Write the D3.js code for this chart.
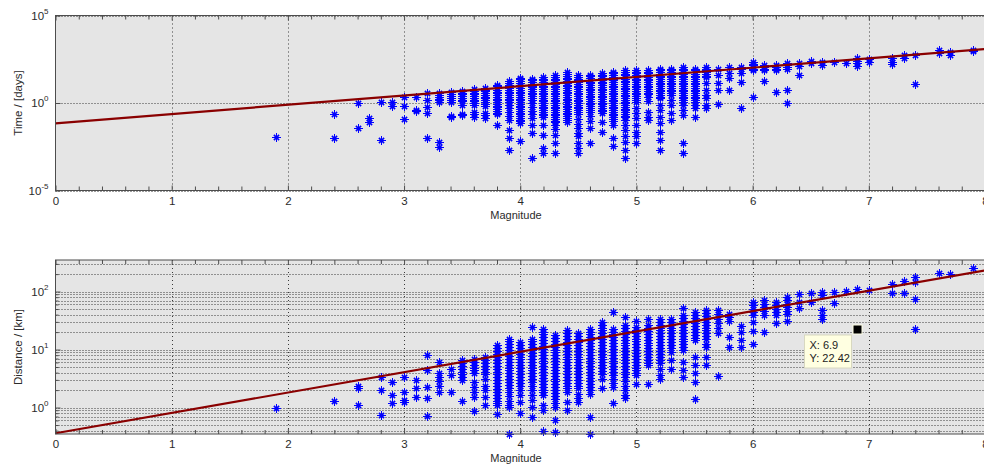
<!DOCTYPE html>
<html>
<head>
<meta charset="utf-8">
<script src="https://cdn.jsdelivr.net/npm/d3@7"></script>
<style>
  html, body { margin: 0; padding: 0; background: #ffffff; overflow: hidden; }
  svg { display: block; font-family: "Liberation Sans", Arial, sans-serif; }
</style>
</head>
<body>
<script>
// ---------------- DATA ----------------
// Magnitude axis ticks
const xMajorTicks = [0, 1, 2, 3, 4, 5, 6, 7, 8];
// Top panel: y ticks (powers of ten)
const timeTickExps = [-5, 0, 5];
// Bottom panel: y ticks (powers of ten)
const distTickExps = [0, 1, 2];

// Top panel: per magnitude, log10(time in days) of each event
const timeData = [
  [1.9, [-1.97]],
  [2.4, [-0.63, -2.0]],
  [2.6, [0.0, -1.44]],
  [2.7, [-0.83, -1.1]],
  [2.8, [0.07, -2.1]],
  [2.9, [0.07, -0.15]],
  [3.0, [0.32, -0.15, -0.93]],
  [3.1, [0.32, -0.4, -0.45]],
  [3.2, [0.55, 0.17, -0.21, -0.55, -2.0]],
  [3.3, [0.55, 0.45, 0.35, 0.25, 0.15, 0.05, -2.25, -2.52]],
  [3.4, [0.64, 0.5, 0.4, 0.3, 0.2, 0.07, -0.72, -0.82]],
  [3.5, [0.7, 0.6, 0.5, 0.4, 0.3, 0.2, 0.1, -0.1, -0.6, -0.7]],
  [3.6, [0.8, 0.7, 0.6, 0.5, 0.4, 0.3, 0.2, 0.1, 0.0, -0.1, -0.5, -0.65, -0.8]],
  [3.7, [0.87, 0.77, 0.67, 0.57, 0.47, 0.37, 0.27, 0.17, 0.07, -0.03, -0.15, -0.55, -0.7, -0.87]],
  [3.8, [1.05, 0.95, 0.85, 0.75, 0.65, 0.55, 0.45, 0.35, 0.25, 0.15, 0.05, -0.05, -0.15, -0.25, -0.35, -0.45, -0.55, -0.65, -1.25]],
  [3.9, [1.25, 1.15, 1.05, 0.95, 0.85, 0.75, 0.65, 0.55, 0.45, 0.35, 0.25, 0.15, 0.05, -0.1, -0.3, -0.5, -0.75, -0.97, -1.53, -2.0, -2.67]],
  [4.0, [1.45, 1.35, 1.25, 1.15, 1.05, 0.95, 0.85, 0.75, 0.65, 0.55, 0.45, 0.35, 0.25, 0.15, 0.05, -0.05, -0.15, -0.25, -0.35, -0.45, -0.55, -0.65, -0.75, -0.85, -0.95, -1.05, -1.15, -2.16]],
  [4.1, [1.4, 1.3, 1.2, 1.1, 1.0, 0.9, 0.8, 0.7, 0.6, 0.5, 0.4, 0.3, 0.2, 0.0, -0.2, -0.45, -0.65, -0.87, -1.25, -1.72, -3.14]],
  [4.2, [1.5, 1.4, 1.3, 1.2, 1.1, 1.0, 0.9, 0.8, 0.7, 0.6, 0.5, 0.4, 0.3, 0.2, 0.1, 0.0, -0.1, -0.2, -0.3, -0.4, -0.5, -0.6, -0.7, -0.78, -1.25, -1.82, -2.57, -2.86]],
  [4.3, [1.6, 1.5, 1.4, 1.3, 1.2, 1.1, 1.0, 0.9, 0.8, 0.7, 0.6, 0.5, 0.4, 0.3, 0.2, 0.1, 0.0, -0.1, -0.2, -0.3, -0.4, -0.5, -0.6, -0.7, -0.8, -0.9, -1.0, -1.1, -1.25, -1.5, -1.82, -2.29, -2.86]],
  [4.4, [1.75, 1.65, 1.55, 1.45, 1.35, 1.25, 1.15, 1.05, 0.95, 0.85, 0.75, 0.65, 0.55, 0.45, 0.35, 0.25, 0.15, 0.05, -0.05, -0.15, -0.25, -0.35, -0.45, -0.55, -0.65, -0.75, -0.85, -0.95, -1.06]],
  [4.5, [1.6, 1.5, 1.4, 1.3, 1.2, 1.1, 1.0, 0.9, 0.8, 0.7, 0.6, 0.5, 0.4, 0.3, 0.2, 0.1, 0.0, -0.1, -0.2, -0.3, -0.4, -0.5, -0.65, -0.9, -1.2, -1.45, -1.7, -1.91, -2.29, -2.57, -2.86]],
  [4.6, [1.62, 1.52, 1.42, 1.32, 1.22, 1.12, 1.02, 0.92, 0.82, 0.72, 0.62, 0.52, 0.42, 0.32, 0.22, 0.12, 0.02, -0.08, -0.18, -0.28, -0.38, -0.5, -0.75, -1.0, -1.44, -2.29]],
  [4.7, [1.72, 1.62, 1.52, 1.42, 1.32, 1.22, 1.12, 1.02, 0.92, 0.82, 0.72, 0.62, 0.52, 0.42, 0.32, 0.22, 0.12, 0.02, -0.08, -0.18, -0.28, -0.38, -0.48, -0.55, -1.06, -1.63]],
  [4.8, [1.8, 1.7, 1.6, 1.5, 1.4, 1.3, 1.2, 1.1, 1.0, 0.9, 0.8, 0.7, 0.6, 0.5, 0.4, 0.3, 0.2, 0.1, 0.0, -0.1, -0.2, -0.3, -0.4, -0.5, -0.6, -0.7, -0.8, -0.9, -1.05, -1.25, -2.0, -2.48]],
  [4.9, [1.88, 1.78, 1.68, 1.58, 1.48, 1.38, 1.28, 1.18, 1.08, 0.98, 0.88, 0.78, 0.68, 0.58, 0.48, 0.38, 0.28, 0.18, 0.08, -0.02, -0.12, -0.22, -0.32, -0.42, -0.52, -0.62, -0.72, -0.82, -0.97, -1.25, -1.53, -1.91, -2.2, -2.67, -3.14]],
  [5.0, [1.9, 1.8, 1.7, 1.6, 1.5, 1.4, 1.3, 1.2, 1.1, 1.0, 0.9, 0.8, 0.7, 0.6, 0.5, 0.4, 0.3, 0.2, 0.07, -0.3, -0.59, -0.87, -1.25, -1.63, -1.91, -2.29]],
  [5.1, [1.9, 1.8, 1.7, 1.6, 1.5, 1.4, 1.3, 1.2, 1.1, 1.0, 0.9, 0.8, 0.7, 0.6, 0.5, 0.36, 0.1, -0.49, -0.78, -0.97]],
  [5.2, [1.97, 1.87, 1.77, 1.67, 1.57, 1.47, 1.37, 1.27, 1.17, 1.07, 0.97, 0.87, 0.77, 0.67, 0.57, 0.47, 0.37, 0.27, -0.11, -0.4, -0.78, -1.15, -1.63, -2.1, -2.67]],
  [5.3, [1.97, 1.87, 1.77, 1.67, 1.57, 1.47, 1.37, 1.27, 1.17, 1.07, 0.97, 0.87, 0.77, 0.67, 0.57, 0.45, 0.2, -0.11, -0.59, -0.97]],
  [5.4, [2.06, 1.96, 1.86, 1.76, 1.66, 1.56, 1.46, 1.36, 1.26, 1.16, 1.06, 0.96, 0.86, 0.76, 0.66, 0.56, 0.46, 0.36, 0.26, 0.16, 0.06, -0.11, -0.4, -0.68, -2.29, -2.86]],
  [5.5, [1.97, 1.87, 1.77, 1.67, 1.57, 1.47, 1.37, 1.27, 1.17, 1.07, 0.97, 0.87, 0.77, 0.67, 0.57, 0.47, 0.37, 0.27, 0.17, 0.07, -0.1, -0.3, -0.78]],
  [5.6, [2.06, 1.96, 1.86, 1.76, 1.66, 1.56, 1.49, 1.12, 0.74, 0.45, 0.27, -0.11, -0.3]],
  [5.7, [1.97, 1.59, 1.12, 0.74, -0.08]],
  [5.8, [2.06, 1.69, 1.45, 0.74]],
  [5.9, [2.06, 1.97, 1.72, 1.21, -0.3]],
  [6.0, [2.35, 2.25, 2.15, 2.05, 1.95, 1.88, 0.36]],
  [6.1, [2.15, 2.05, 1.95, 1.88, 1.27]],
  [6.2, [2.16, 2.06, 1.96, 1.88, 0.64]],
  [6.3, [2.26, 2.16, 2.06, 1.95, 0.74, -0.02]],
  [6.4, [2.26, 2.1, 1.59]],
  [6.5, [2.41, 2.26]],
  [6.6, [2.35, 2.16]],
  [6.7, [2.35]],
  [6.8, [2.26]],
  [6.9, [2.56, 2.41, 2.26, 2.1]],
  [7.0, [2.52, 2.35]],
  [7.2, [2.56, 2.35, 2.24]],
  [7.3, [2.75, 2.56]],
  [7.4, [2.72, 1.08]],
  [7.6, [3.0, 2.84]],
  [7.7, [2.9, 2.77]],
  [7.9, [3.05, 2.96]]
];

// Bottom panel: per magnitude, log10(distance in km) of each event
const distData = [
  [1.9, [0.0]],
  [2.4, [0.11]],
  [2.6, [0.37, 0.33, 0.04]],
  [2.8, [0.53, 0.3, -0.13]],
  [2.9, [0.44, 0.21, 0.07]],
  [3.0, [0.53, 0.27, 0.13, 0.1]],
  [3.1, [0.48, 0.33, 0.19]],
  [3.2, [0.9, 0.64, 0.36, 0.17, -0.14]],
  [3.3, [0.79, 0.59, 0.52, 0.45, 0.38, 0.27]],
  [3.4, [0.67, 0.56, 0.27]],
  [3.5, [0.82, 0.77, 0.72, 0.67, 0.62, 0.57, 0.52, 0.47, 0.11]],
  [3.6, [0.84, 0.79, 0.74, 0.69, 0.64, 0.59, 0.44, 0.36, 0.27, 0.18, -0.06]],
  [3.7, [0.87, 0.82, 0.77, 0.72, 0.67, 0.62, 0.57, 0.5, 0.38, 0.3, 0.18, 0.04]],
  [3.8, [1.07, 1.02, 0.97, 0.92, 0.87, 0.82, 0.77, 0.72, 0.67, 0.62, 0.57, 0.52, 0.47, 0.42, 0.37, 0.32, 0.27, 0.22, 0.17, 0.12, 0.07, 0.04, -0.11]],
  [3.9, [1.19, 1.14, 1.09, 1.04, 0.99, 0.94, 0.89, 0.84, 0.79, 0.74, 0.69, 0.64, 0.59, 0.54, 0.49, 0.44, 0.39, 0.33, 0.27, 0.2, 0.12, 0.05, 0.01, -0.45]],
  [4.0, [1.13, 1.08, 1.03, 0.98, 0.93, 0.88, 0.83, 0.78, 0.73, 0.68, 0.63, 0.58, 0.53, 0.48, 0.43, 0.38, 0.3, 0.21, 0.1, -0.1]],
  [4.1, [1.39, 1.19, 1.14, 1.09, 1.04, 0.99, 0.94, 0.89, 0.84, 0.79, 0.74, 0.69, 0.64, 0.59, 0.54, 0.49, 0.44, 0.38, 0.3, 0.21, 0.13, 0.01, -0.16]],
  [4.2, [1.36, 1.31, 1.26, 1.21, 1.16, 1.11, 1.06, 1.01, 0.96, 0.91, 0.86, 0.81, 0.76, 0.71, 0.66, 0.61, 0.56, 0.51, 0.46, 0.41, 0.36, 0.31, 0.26, 0.21, 0.04, -0.05, -0.41]],
  [4.3, [1.25, 1.2, 1.15, 1.1, 1.05, 1.0, 0.95, 0.9, 0.85, 0.8, 0.75, 0.7, 0.65, 0.6, 0.55, 0.5, 0.45, 0.4, 0.35, 0.3, 0.25, 0.2, 0.14, 0.07, 0.01, -0.22, -0.42]],
  [4.4, [1.33, 1.28, 1.23, 1.18, 1.13, 1.08, 1.03, 0.98, 0.93, 0.88, 0.83, 0.78, 0.73, 0.68, 0.63, 0.58, 0.53, 0.48, 0.43, 0.38, 0.33, 0.27, 0.1, -0.05]],
  [4.5, [1.28, 1.23, 1.18, 1.13, 1.08, 1.03, 0.98, 0.93, 0.88, 0.83, 0.78, 0.73, 0.68, 0.63, 0.58, 0.53, 0.48, 0.43, 0.38, 0.33, 0.24, 0.17, 0.1]],
  [4.6, [1.36, 1.31, 1.26, 1.21, 1.16, 1.11, 1.06, 1.01, 0.96, 0.91, 0.86, 0.81, 0.76, 0.71, 0.66, 0.61, 0.56, 0.51, 0.46, 0.41, 0.36, 0.3, 0.24, -0.16, -0.46]],
  [4.7, [1.48, 1.43, 1.38, 1.33, 1.28, 1.23, 1.18, 1.13, 1.08, 1.03, 0.98, 0.93, 0.88, 0.83, 0.78, 0.73, 0.68, 0.63, 0.58, 0.5, 0.33]],
  [4.8, [1.65, 1.36, 1.31, 1.26, 1.21, 1.16, 1.11, 1.06, 1.01, 0.96, 0.91, 0.86, 0.81, 0.76, 0.71, 0.66, 0.61, 0.56, 0.5, 0.43, 0.36, 0.07]],
  [4.9, [1.56, 1.42, 1.37, 1.32, 1.27, 1.22, 1.17, 1.12, 1.07, 1.02, 0.97, 0.92, 0.87, 0.82, 0.77, 0.72, 0.67, 0.62, 0.57, 0.52, 0.46, 0.38, 0.3, 0.22, 0.16]],
  [5.0, [1.5, 1.39, 1.34, 1.29, 1.24, 1.19, 1.14, 1.09, 1.04, 0.99, 0.94, 0.89, 0.84, 0.79, 0.74, 0.69, 0.64, 0.59, 0.56, 0.41]],
  [5.1, [1.53, 1.42, 1.37, 1.32, 1.27, 1.22, 1.17, 1.12, 1.07, 1.02, 0.97, 0.92, 0.87, 0.82, 0.77, 0.73, 0.41]],
  [5.2, [1.53, 1.48, 1.43, 1.38, 1.33, 1.28, 1.23, 1.18, 1.13, 1.08, 1.03, 0.98, 0.93, 0.88, 0.82, 0.76, 0.67, 0.56, 0.5]],
  [5.3, [1.53, 1.48, 1.43, 1.38, 1.33, 1.28, 1.23, 1.18, 1.13, 1.08, 1.03, 0.96, 0.82, 0.67]],
  [5.4, [1.71, 1.59, 1.54, 1.49, 1.44, 1.39, 1.34, 1.29, 1.24, 1.19, 1.14, 1.09, 1.04, 0.99, 0.79, 0.64, 0.53]],
  [5.5, [1.65, 1.6, 1.55, 1.5, 1.45, 1.4, 1.35, 1.3, 1.25, 1.2, 1.16, 0.87, 0.73, 0.59, 0.44, 0.14]],
  [5.6, [1.68, 1.63, 1.58, 1.53, 1.48, 1.43, 1.38, 1.33, 1.28, 1.23, 1.18, 1.1, 1.04, 0.87, 0.73]],
  [5.7, [1.69, 1.61, 1.53, 1.45, 1.37, 1.28, 0.54]],
  [5.8, [1.62, 1.56, 1.5, 1.21, 1.04]],
  [5.9, [1.41, 1.31, 1.16, 1.04]],
  [6.0, [1.82, 1.76, 1.7, 1.64, 1.59, 1.48, 1.32, 1.09]],
  [6.1, [1.85, 1.79, 1.73, 1.67, 1.59, 1.3]],
  [6.2, [1.82, 1.76, 1.7, 1.64, 1.6, 1.46]],
  [6.3, [1.91, 1.85, 1.79, 1.73, 1.67, 1.62, 1.49]],
  [6.4, [1.95, 1.82, 1.72]],
  [6.5, [1.97, 1.82]],
  [6.6, [1.99, 1.94, 1.68, 1.6, 1.52]],
  [6.7, [1.99, 1.8]],
  [6.8, [2.01]],
  [6.9, [2.05, 1.35]],
  [7.0, [2.03]],
  [7.2, [2.13, 1.98]],
  [7.3, [2.18, 1.98]],
  [7.4, [2.25, 2.16, 1.88, 1.36]],
  [7.6, [2.32]],
  [7.7, [2.31]],
  [7.9, [2.41]]
];

// Fitted lines (end points)
const fitMag = [0, 8];
const fitTime = [0.069, 1200];
const fitDist = [0.36, 232];

// Data tip
const tipMag = 6.9;
const tipDist = 22.42;

// ---------------- DRAWING ----------------
const W = 984, H = 471;
const svg = d3.select("body").append("svg").attr("width", W).attr("height", H);

const x = d3.scaleLinear().domain([0, 8]).range([55.5, 985]);
const yTop = d3.scaleLog().domain([1e-5, 1e5]).range([190.5, 15.5]);
const yBot = d3.scaleLog().domain([0.35, 350]).range([434, 260]);

const textColor = "#2b2b2b";
const frameColor = "#4d4d4d";
const gridColor = "#3a3a3a";
const plusPath = "M-4.5,0H4.5M0,-4.5V4.5";
const crossPath = "M-2.6,-2.6L2.6,2.6M-2.6,2.6L2.6,-2.6";

function panel(y, data, fitY, yMajorExps, yMinorVals, label, labelY) {
  const [y0, y1] = y.range();      // y0 = bottom, y1 = top
  const x0 = x.range()[0], x1 = x.range()[1] + 2;
  const g = svg.append("g");

  g.append("rect").attr("x", x0).attr("y", y1).attr("width", x1 - x0).attr("height", y0 - y1)
    .attr("fill", "#e5e5e5");

  // minor horizontal grid (log)
  g.append("g").selectAll("line").data(yMinorVals).join("line")
    .attr("x1", x0).attr("x2", x1)
    .attr("y1", d => Math.round(y(d)) + 0.5).attr("y2", d => Math.round(y(d)) + 0.5)
    .attr("stroke", gridColor).attr("stroke-width", 1).attr("stroke-dasharray", "1,2");

  // major horizontal grid
  g.append("g").selectAll("line").data(yMajorExps.map(e => Math.pow(10, e))).join("line")
    .attr("x1", x0).attr("x2", x1)
    .attr("y1", d => Math.round(y(d)) + 0.5).attr("y2", d => Math.round(y(d)) + 0.5)
    .attr("stroke", gridColor).attr("stroke-width", 1).attr("stroke-dasharray", "1,2");

  // vertical grid
  g.append("g").selectAll("line").data(xMajorTicks.slice(1, -1)).join("line")
    .attr("x1", d => Math.round(x(d)) + 0.5).attr("x2", d => Math.round(x(d)) + 0.5)
    .attr("y1", y1).attr("y2", y0)
    .attr("stroke", gridColor).attr("stroke-width", 1).attr("stroke-dasharray", "1,3");

  // points (asterisk markers)
  const pts = [];
  data.forEach(([m, vals]) => vals.forEach(v => pts.push([m, Math.pow(10, v)])));
  const mk = g.append("g").selectAll("g").data(pts).join("g")
    .attr("transform", d => `translate(${Math.round(x(d[0])) + 0.5},${Math.round(y(d[1])) + 0.5})`);
  mk.append("path").attr("d", crossPath).attr("fill", "none")
    .attr("stroke", "#0000ff").attr("stroke-width", 1.6);
  mk.append("path").attr("d", plusPath).attr("fill", "none")
    .attr("stroke", "#0000ff").attr("stroke-width", 1);

  // fit line
  const line = d3.line().x(d => x(d[0])).y(d => y(d[1]));
  g.append("path").datum(fitMag.map((m, i) => [m, fitY[i]]))
    .attr("d", line).attr("fill", "none").attr("stroke", "#8a0000").attr("stroke-width", 2.2);

  // frame
  g.append("rect").attr("x", x0).attr("y", y1).attr("width", x1 - x0).attr("height", y0 - y1)
    .attr("fill", "none").attr("stroke", frameColor).attr("stroke-width", 1);

  // x axes (ticks inside)
  const minorX = d3.range(0, 8.001, 0.2).map(v => +v.toFixed(1)).filter(v => !xMajorTicks.includes(v));
  const axB = g.append("g").attr("transform", `translate(0,${y0})`)
    .call(d3.axisBottom(x).tickValues(xMajorTicks).tickSize(-5).tickPadding(6).tickFormat(d3.format("d")));
  const axBm = g.append("g").attr("transform", `translate(0,${y0})`)
    .call(d3.axisBottom(x).tickValues(minorX).tickSize(-4).tickFormat(""));
  const axT = g.append("g").attr("transform", `translate(0,${y1})`)
    .call(d3.axisTop(x).tickValues(xMajorTicks).tickSize(-5).tickFormat(""));
  const axTm = g.append("g").attr("transform", `translate(0,${y1})`)
    .call(d3.axisTop(x).tickValues(minorX).tickSize(-4).tickFormat(""));
  [axB, axBm, axT, axTm].forEach(a => {
    a.select(".domain").remove();
    a.selectAll(".tick line").attr("stroke", frameColor);
    a.selectAll("text").attr("fill", textColor).style("font-size", "11.5px")
      .style("font-family", '"Liberation Sans", Arial, sans-serif');
  });

  // y ticks left (inside)
  const axL = g.append("g").attr("transform", `translate(${x0},0)`)
    .call(d3.axisLeft(y).tickValues(yMajorExps.map(e => Math.pow(10, e))).tickSize(-5).tickFormat(""));
  const axLm = g.append("g").attr("transform", `translate(${x0},0)`)
    .call(d3.axisLeft(y).tickValues(yMinorVals).tickSize(-3).tickFormat(""));
  [axL, axLm].forEach(a => {
    a.select(".domain").remove();
    a.selectAll(".tick line").attr("stroke", frameColor);
  });

  // y tick labels 10^n
  const lab = g.append("g").selectAll("text").data(yMajorExps).join("text")
    .attr("x", x0 - 7).attr("y", d => y(Math.pow(10, d)) + 4)
    .attr("text-anchor", "end").attr("fill", textColor)
    .style("font-size", "11.5px");
  lab.append("tspan").text("10");
  lab.append("tspan").attr("dy", -6).style("font-size", "8px").text(d => String(d));

  // x label
  g.append("text").attr("x", 516).attr("y", y0 + 28)
    .attr("text-anchor", "middle").attr("fill", textColor).style("font-size", "11px").text("Magnitude");

  // y label
  g.append("text").attr("transform", `translate(22,${labelY}) rotate(-90)`)
    .attr("text-anchor", "middle").attr("fill", textColor).style("font-size", "11.5px").text(label);

  return g;
}

panel(yTop, timeData, fitTime, timeTickExps, [], "Time / [days]", 103);

const distMinor = [];
[0.1, 1, 10, 100].forEach(b => d3.range(2, 10).forEach(k => {
  const v = b * k;
  if (v >= 0.35 && v <= 350) distMinor.push(v);
}));
const gB = panel(yBot, distData, fitDist, distTickExps, distMinor, "Distance / [km]", 347);

// data tip
const tx = Math.round(x(tipMag)) + 0.5, ty = Math.round(yBot(tipDist)) + 0.5;
gB.append("rect").attr("x", tx - 4.5).attr("y", ty - 4.5).attr("width", 9).attr("height", 9)
  .attr("fill", "#000").attr("stroke", "#ffffe6").attr("stroke-width", 1);
const bx = tx - 53, by = ty + 5.5;
gB.append("rect").attr("x", bx).attr("y", by).attr("width", 47).attr("height", 33)
  .attr("fill", "#ffffe1").attr("stroke", "#d8d8c0").attr("stroke-width", 1);
gB.append("text").attr("x", bx + 5).attr("y", by + 14).attr("fill", "#222").style("font-size", "11px")
  .text("X: " + tipMag);
gB.append("text").attr("x", bx + 5).attr("y", by + 27).attr("fill", "#222").style("font-size", "11px")
  .text("Y: " + tipDist);
</script>
</body>
</html>
